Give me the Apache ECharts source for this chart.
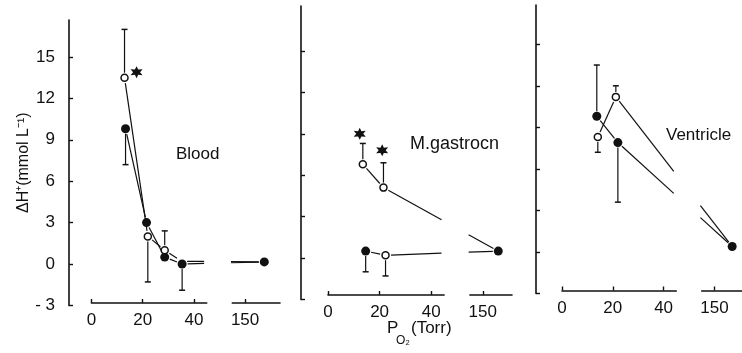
<!DOCTYPE html>
<html><head><meta charset="utf-8">
<script src="https://cdn.jsdelivr.net/npm/echarts@6.0.0/dist/echarts.min.js"></script>
<style>html,body{margin:0;padding:0;background:#fff}#c{width:742px;height:353px}</style>
</head><body><div id="c"></div>
<script>
// ================= DATA (P_O2 in Torr, ΔH+ in mmol/L) =================
const yTicks = [-3, 0, 3, 6, 9, 12, 15];
const yMin = -3;
const xTicksLow = [0, 20, 40];
const xTicksHigh = [150];
const panelNames = ['Blood', 'M.gastrocn', 'Ventricle'];
const yAxisTitle = 'ΔH⁺(mmol L⁻¹)';

// ---- Blood ----
const bloodLineA_P = [12.9, 22.0, 28.6, 35.2, 157.5];
const bloodLineA_H = [13.5, 2.0, 1.0, 0.2, 0.15];
const bloodLineB_P = [13.3, 21.5, 28.6, 35.4, 157.5];
const bloodLineB_H = [9.8, 3.0, 0.5, 0.0, 0.15];
const bloodOpen_P = [12.9, 22.0, 28.6];
const bloodOpen_H = [13.5, 2.0, 1.0];
const bloodFilled_P = [13.3, 21.5, 28.6, 35.4, 157.5];
const bloodFilled_H = [9.8, 3.0, 0.5, 0.0, 0.15];
const bloodStar_P = [17.6];
const bloodStar_H = [13.9];
const bloodErr_P = [12.9, 13.3, 22.0, 28.6, 35.4];
const bloodErr_From = [13.5, 9.8, 2.0, 1.0, 0.0];
const bloodErr_To = [17.0, 7.2, -1.3, 2.4, -1.9];

// ---- M. gastrocnemius ----
const gastLineA_P = [13.5, 21.5, 156];
const gastLineA_H = [6.8, 5.1, 0.5];
const gastLineB_P = [14.6, 22.3, 156];
const gastLineB_H = [0.5, 0.2, 0.5];
const gastOpen_P = [13.5, 21.5, 22.3];
const gastOpen_H = [6.8, 5.1, 0.2];
const gastFilled_P = [14.6, 156];
const gastFilled_H = [0.5, 0.5];
const gastStar_P = [12.3, 21.0];
const gastStar_H = [9.0, 7.8];
const gastErr_P = [13.5, 21.5, 14.6, 22.3];
const gastErr_From = [6.8, 5.1, 0.5, 0.2];
const gastErr_To = [8.3, 6.9, -1.0, -1.3];

// ---- Ventricle ----
const ventLineA_P = [14.1, 21.2, 157];
const ventLineA_H = [8.3, 11.2, 0.4];
const ventLineB_P = [13.7, 22.0, 157];
const ventLineB_H = [9.8, 7.9, 0.4];
const ventOpen_P = [14.1, 21.2];
const ventOpen_H = [8.3, 11.2];
const ventFilled_P = [13.7, 22.0, 157];
const ventFilled_H = [9.8, 7.9, 0.4];
const ventStar_P = [];
const ventStar_H = [];
const ventErr_P = [13.7, 14.1, 21.2, 22.0];
const ventErr_From = [9.8, 8.3, 11.2, 7.9];
const ventErr_To = [13.5, 7.2, 12.0, 3.6];

// ================= LAYOUT =================
const FONT = '"Liberation Sans", Arial, sans-serif';
const INK = '#111';
// broken axis: values above 100 Torr are shifted by 90 on the display scale
const SHIFT = 90;
const toD = p => (p > 100 ? p - SHIFT : p);
const LOW_END = 45, HIGH_START = 145;
const GAP_D1 = 44, GAP_D2 = 54.5;

const layouts = [
  { yx: 69,  x0: 91.5, k: 2.56, zeroY: 264, unitY: 13.8,  topY: 20, axisY: 303,   right: 280 },
  { yx: 301, x0: 328,  k: 2.58, zeroY: 258, unitY: 13.8,  topY: 6,  axisY: 295,   right: 512 },
  { yx: 536, x0: 562,  k: 2.54, zeroY: 252, unitY: 13.85, topY: 5,  axisY: 290.5, right: 742 }
];

const panels = [
  { lines: [[bloodLineA_P, bloodLineA_H], [bloodLineB_P, bloodLineB_H]],
    open: [bloodOpen_P, bloodOpen_H], filled: [bloodFilled_P, bloodFilled_H], star: [bloodStar_P, bloodStar_H],
    err: [bloodErr_P, bloodErr_From, bloodErr_To] },
  { lines: [[gastLineA_P, gastLineA_H], [gastLineB_P, gastLineB_H]],
    open: [gastOpen_P, gastOpen_H], filled: [gastFilled_P, gastFilled_H], star: [gastStar_P, gastStar_H],
    err: [gastErr_P, gastErr_From, gastErr_To] },
  { lines: [[ventLineA_P, ventLineA_H], [ventLineB_P, ventLineB_H]],
    open: [ventOpen_P, ventOpen_H], filled: [ventFilled_P, ventFilled_H], star: [ventStar_P, ventStar_H],
    err: [ventErr_P, ventErr_From, ventErr_To] }
];

const STAR = 'path://M50,0 L62,28 L93,25 L75,50 L93,75 L62,72 L50,100 L38,72 L7,75 L25,50 L7,25 L38,28 Z';
const TRIM = 5.5;

function segRender(params, api) {
  let a = api.coord([api.value(0), api.value(1)]);
  let b = api.coord([api.value(2), api.value(3)]);
  const dx = b[0] - a[0], dy = b[1] - a[1];
  const len = Math.hypot(dx, dy);
  const ux = dx / len, uy = dy / len;
  a = [a[0] + ux * TRIM, a[1] + uy * TRIM];
  b = [b[0] - ux * TRIM, b[1] - uy * TRIM];
  const bx1 = api.coord([GAP_D1, 0])[0], bx2 = api.coord([GAP_D2, 0])[0];
  const style = { stroke: INK, lineWidth: 1.2, fill: null };
  const pieces = [];
  if (a[0] < bx1 && b[0] > bx2) {
    const yAt = x => a[1] + (b[1] - a[1]) * (x - a[0]) / (b[0] - a[0]);
    pieces.push([a, [bx1, yAt(bx1)]]);
    pieces.push([[bx2, yAt(bx2)], b]);
  } else pieces.push([a, b]);
  return { type: 'group', children: pieces.map(p => ({
    type: 'line', shape: { x1: p[0][0], y1: p[0][1], x2: p[1][0], y2: p[1][1] }, style })) };
}

function errRender(params, api) {
  const from = api.coord([api.value(0), api.value(1)]);
  const to = api.coord([api.value(0), api.value(2)]);
  const dir = to[1] > from[1] ? 1 : -1;
  const style = { stroke: INK, lineWidth: 1.2 };
  return { type: 'group', children: [
    { type: 'line', shape: { x1: from[0], y1: from[1] + dir * 5, x2: to[0], y2: to[1] }, style },
    { type: 'line', shape: { x1: to[0] - 3, y1: to[1], x2: to[0] + 3, y2: to[1] }, style: { stroke: INK, lineWidth: 1.5 } }
  ] };
}

const grid = [], xAxis = [], yAxis = [], series = [];
layouts.forEach((L, i) => {
  const bottomY = L.zeroY - yMin * L.unitY;
  const yMax = (L.zeroY - L.topY) / L.unitY;
  const W = L.right - L.yx;
  const xMin = (L.yx - L.x0) / L.k;
  const xMax = xMin + W / L.k;
  const g0 = grid.length;
  // main grid (data)
  grid.push({ left: L.yx, top: L.topY, width: W, height: bottomY - L.topY, outerBoundsMode: 'none', containLabel: false });
  xAxis.push({ gridIndex: g0, type: 'value', min: xMin, max: xMax, show: false,
    axisLine: { onZero: false } });
  yAxis.push({
    gridIndex: g0, type: 'value', min: yMin, max: yMax,
    name: i === 0 ? yAxisTitle : '', nameLocation: 'middle', nameGap: 30, nameRotate: 90,
    nameTextStyle: { fontFamily: FONT, fontSize: 16, color: INK },
    axisLine: { show: true, onZero: false, lineStyle: { color: INK, width: 1.6 } },
    axisTick: { show: true, inside: true, length: 4, customValues: yTicks, lineStyle: { color: INK, width: 1.4 } },
    axisLabel: { show: i === 0, margin: 14, customValues: yTicks, fontFamily: FONT, fontSize: 17, color: INK,
      formatter: v => (v < 0 ? '- ' + Math.abs(v) : String(v)) },
    splitLine: { show: false }
  });
  // low segment of broken x axis
  const g1 = grid.length;
  grid.push({ left: L.x0, top: L.axisY - 20, width: LOW_END * L.k, height: 20, outerBoundsMode: 'none', containLabel: false });
  xAxis.push({ gridIndex: g1, type: 'value', min: 0, max: LOW_END,
    axisLine: { show: true, onZero: false, lineStyle: { color: INK, width: 1.6 } },
    axisTick: { show: true, inside: true, length: 4, customValues: xTicksLow, lineStyle: { color: INK, width: 1.4 } },
    axisLabel: { show: true, margin: 9, customValues: xTicksLow, fontFamily: FONT, fontSize: 17, color: INK },
    splitLine: { show: false } });
  yAxis.push({ gridIndex: g1, type: 'value', min: 0, max: 1, show: false });
  // high segment of broken x axis
  const g2 = grid.length;
  const hiLeft = L.x0 + (HIGH_START - SHIFT) * L.k;
  const hiW = L.right - hiLeft;
  grid.push({ left: hiLeft, top: L.axisY - 20, width: hiW, height: 20, outerBoundsMode: 'none', containLabel: false });
  xAxis.push({ gridIndex: g2, type: 'value', min: HIGH_START, max: HIGH_START + hiW / L.k,
    axisLine: { show: true, onZero: false, lineStyle: { color: INK, width: 1.6 } },
    axisTick: { show: true, inside: true, length: 4, customValues: xTicksHigh, lineStyle: { color: INK, width: 1.4 } },
    axisLabel: { show: true, margin: 9, customValues: xTicksHigh, fontFamily: FONT, fontSize: 17, color: INK },
    splitLine: { show: false } });
  yAxis.push({ gridIndex: g2, type: 'value', min: 0, max: 1, show: false });

  const P = panels[i];
  const segData = [];
  P.lines.forEach(([ps, hs]) => {
    for (let j = 0; j < ps.length - 1; j++) segData.push([toD(ps[j]), hs[j], toD(ps[j + 1]), hs[j + 1]]);
  });
  series.push({ type: 'custom', xAxisIndex: g0, yAxisIndex: g0, renderItem: segRender, data: segData, silent: true, z: 2 });
  series.push({ type: 'custom', xAxisIndex: g0, yAxisIndex: g0, renderItem: errRender, silent: true, z: 2,
    data: P.err[0].map((p, j) => [toD(p), P.err[1][j], P.err[2][j]]) });
  series.push({ type: 'scatter', xAxisIndex: g0, yAxisIndex: g0, symbol: 'circle', symbolSize: 9, z: 4, silent: true,
    itemStyle: { color: INK, opacity: 1 }, data: P.filled[0].map((p, j) => [toD(p), P.filled[1][j]]) });
  series.push({ type: 'scatter', xAxisIndex: g0, yAxisIndex: g0, symbol: 'circle', symbolSize: 7, z: 5, silent: true,
    itemStyle: { color: '#fff', borderColor: INK, borderWidth: 1.5, opacity: 1 }, data: P.open[0].map((p, j) => [toD(p), P.open[1][j]]) });
  series.push({ type: 'scatter', xAxisIndex: g0, yAxisIndex: g0, symbol: STAR, symbolSize: 12, z: 5, silent: true,
    itemStyle: { color: INK, opacity: 1 }, data: P.star[0].map((p, j) => [toD(p), P.star[1][j]]) });
});

const txt = (x, y, text, size) => ({ type: 'text', left: x, top: y, silent: true,
  style: { text, fontFamily: FONT, fontSize: size, fill: INK } });

const option = {
  animation: false,
  backgroundColor: '#fff',
  grid, xAxis, yAxis, series,
  graphic: [
    txt(176, 146, panelNames[0], 17),
    txt(410, 135, panelNames[1], 18),
    txt(666, 127, panelNames[2], 17),
    txt(387, 320, 'P', 17),
    txt(396, 335, 'O₂', 12),
    txt(411, 320, '(Torr)', 17)
  ]
};
const chart = echarts.init(document.getElementById('c'), null, { renderer: 'canvas' });
chart.setOption(option);
</script></body></html>
